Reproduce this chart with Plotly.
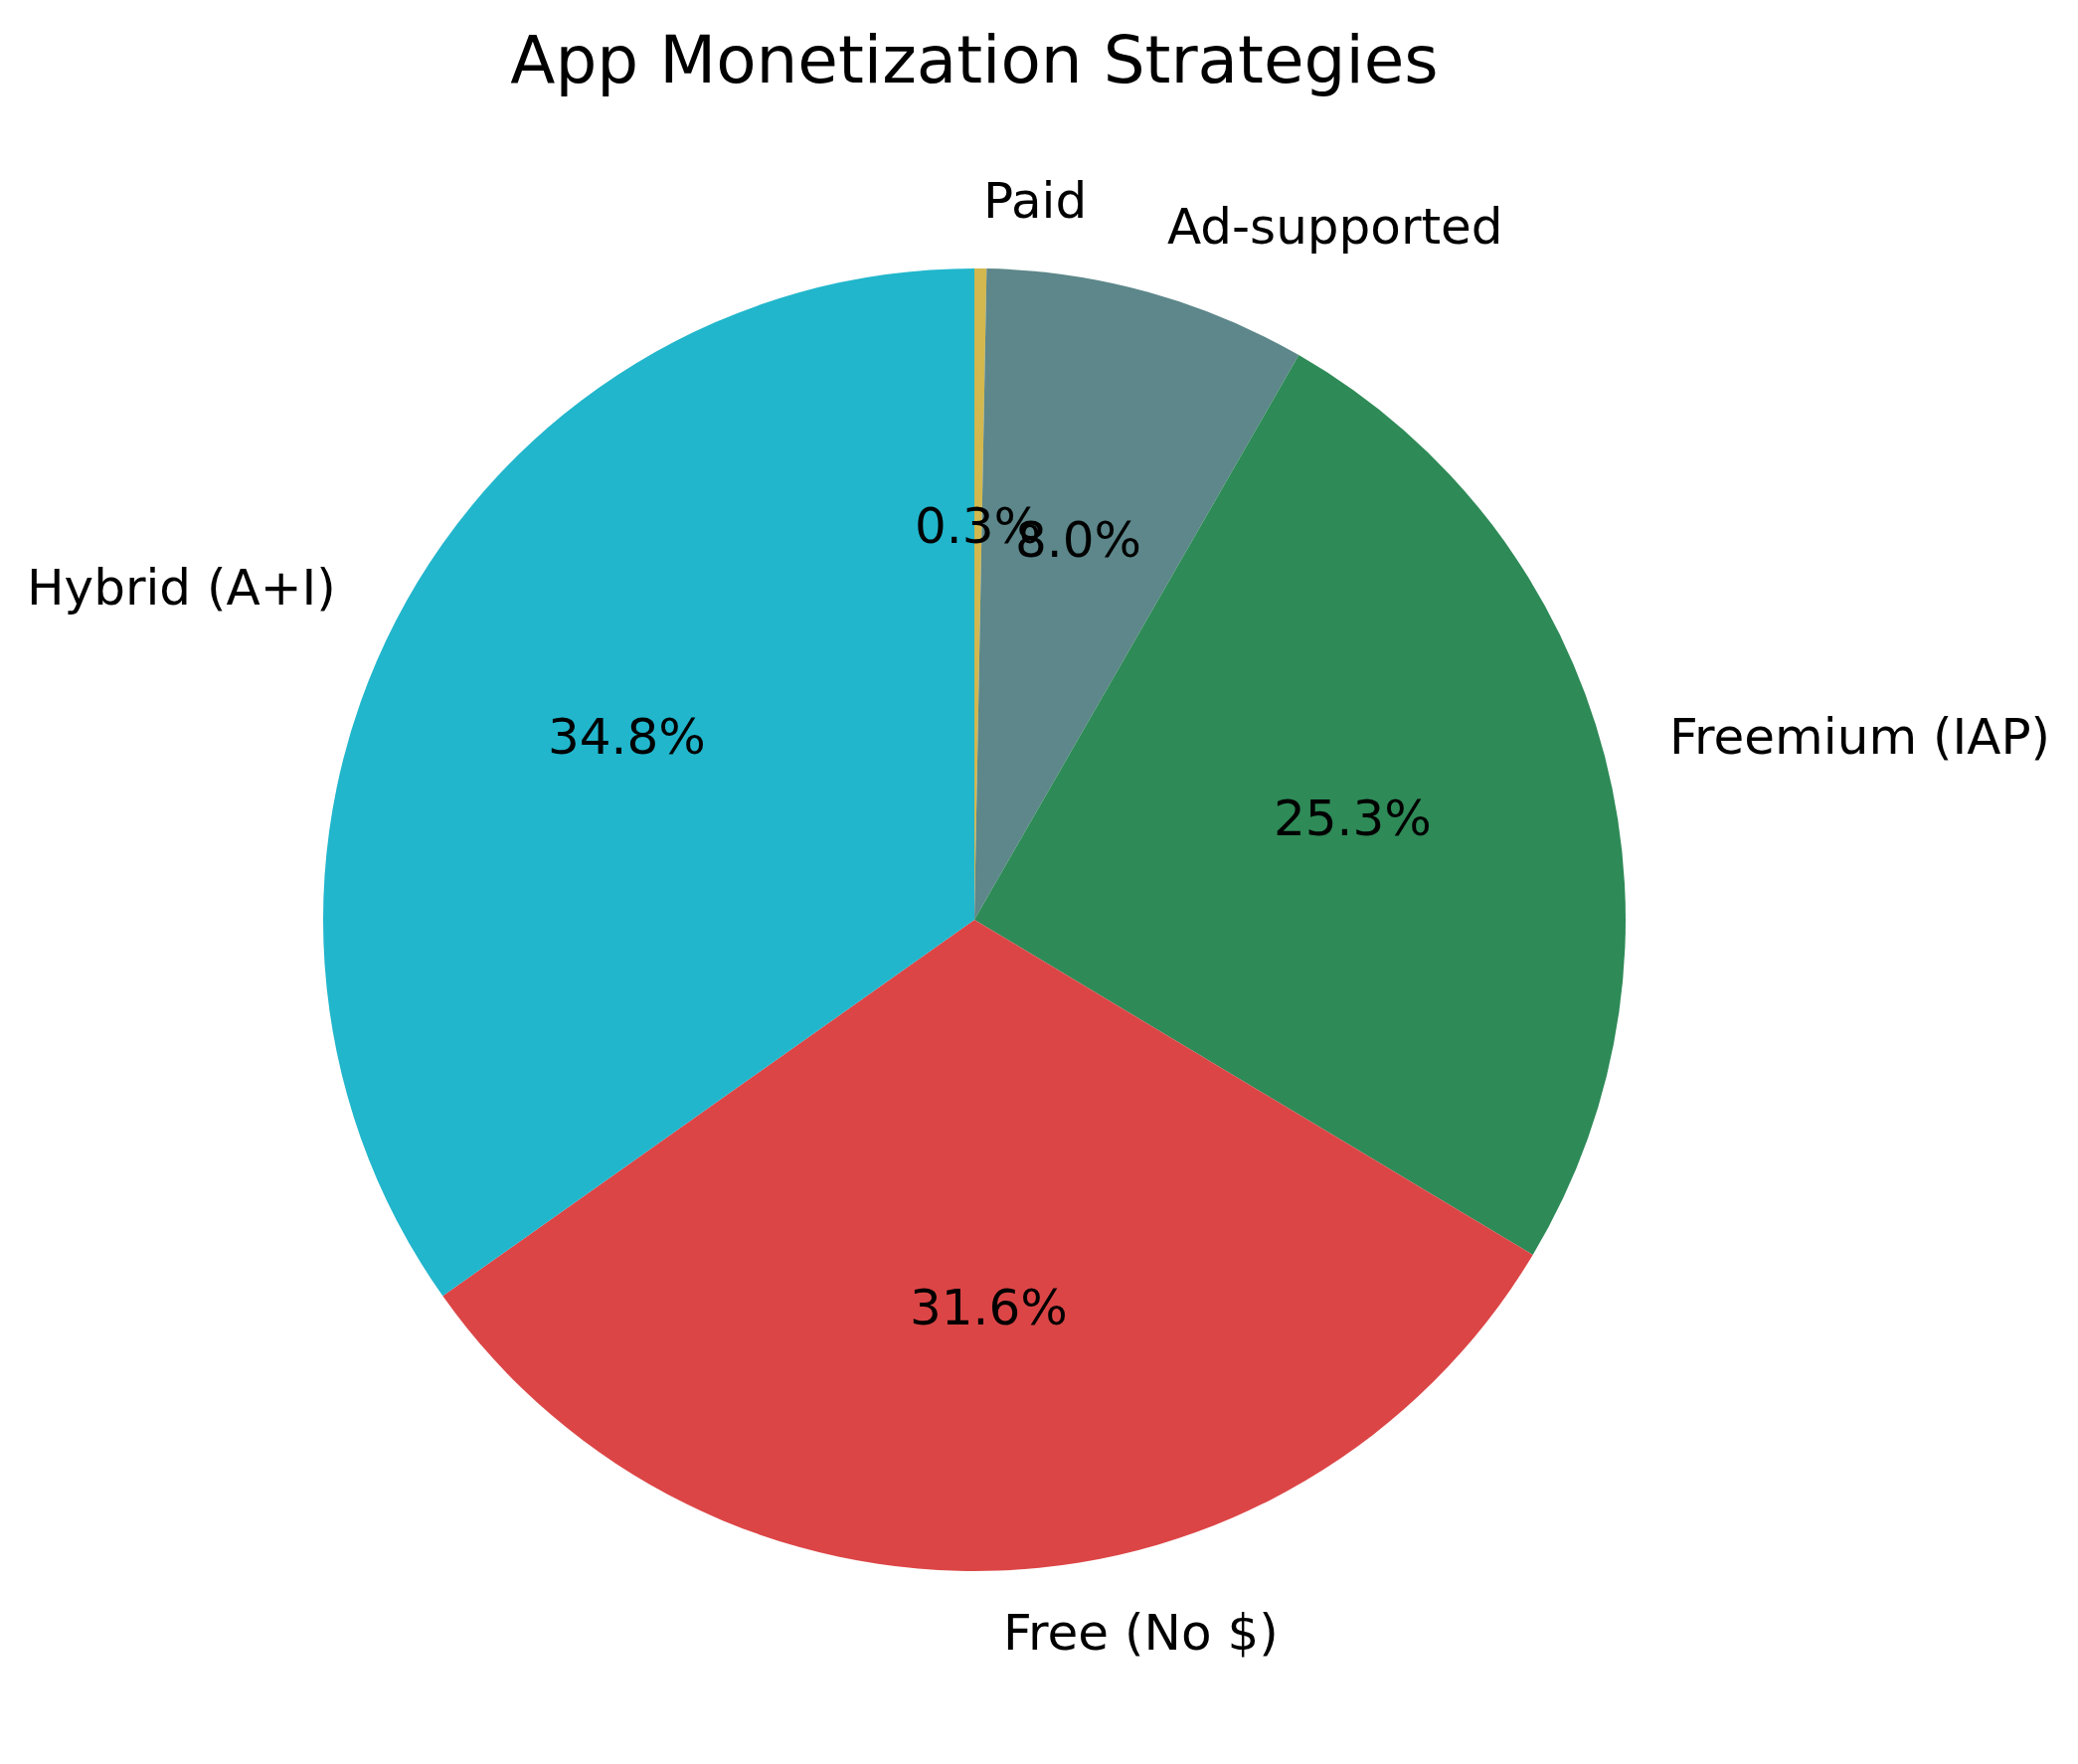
import math
import plotly.graph_objects as go

# Data
labels = ["Hybrid (A+I)", "Free (No $)", "Freemium (IAP)", "Ad-supported", "Paid"]
values = [34.8, 31.6, 25.3, 8.0, 0.3]
colors = ["#21B6CC", "#DC4546", "#2E8A57", "#5D878A", "#D2B84E"]
title_text = "App Monetization Strategies"

W, H = 2090, 1774
OFF = 8  # page body margin of the html page
CX, CY, R = 980 - OFF, 925 - OFF, 655  # pie centre / radius in pixels

# matplotlib draws counter-clockwise from 12 o'clock; plotly: reverse + clockwise
fig = go.Figure()
fig.add_trace(go.Pie(
    labels=labels[::-1],
    values=values[::-1],
    sort=False,
    direction="clockwise",
    rotation=0,
    textinfo="none",
    hoverinfo="label+percent",
    marker=dict(colors=colors[::-1], line=dict(width=0)),
    showlegend=False,
    domain=dict(x=[(CX - R) / W, (CX + R) / W],
                y=[(H - CY - R) / H, (H - CY + R) / H]),
))

# Label / percentage annotations derived from the data (matplotlib-style)
total = sum(values)
annotations = []
start = 90.0
font = dict(family="DejaVu Sans", size=50, color="black")
for lab, v in zip(labels, values):
    span = 360.0 * v / total
    mid = math.radians(start + span / 2)
    start += span
    cx, sy = math.cos(mid), math.sin(mid)
    lx = CX + 1.1 * R * cx
    ly = CY - 1.1 * R * sy
    annotations.append(dict(
        x=lx / W, y=1 - ly / H, xref="paper", yref="paper",
        text=lab, showarrow=False, font=font, yshift=3,
        xanchor="left" if cx > 0 else "right", yanchor="middle"))
    px = CX + 0.6 * R * cx
    py = CY - 0.6 * R * sy
    annotations.append(dict(
        x=px / W, y=1 - py / H, xref="paper", yref="paper",
        text="%.1f%%" % (100 * v / total), showarrow=False, font=font, yshift=3,
        xanchor="center", yanchor="middle"))

fig.update_layout(
    width=W, height=H,
    margin=dict(l=0, r=0, t=0, b=0),
    paper_bgcolor="white",
    plot_bgcolor="white",
    title=dict(text=title_text, x=CX / W, xanchor="center",
               y=1 - (60 - OFF) / H, yanchor="middle", yref="container",
               font=dict(family="DejaVu Sans", size=66, color="black")),
    annotations=annotations,
)

fig.write_html("out.html")
